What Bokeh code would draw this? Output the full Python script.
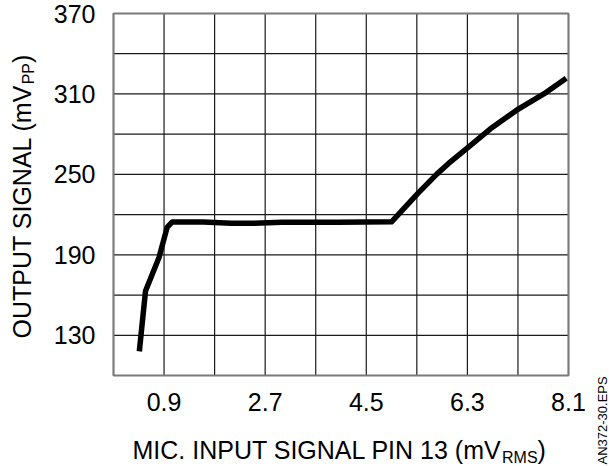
import math
from bokeh.plotting import figure
from bokeh.models import Label, Range1d
from bokeh.core.properties import value
from bokeh.embed import file_html
from bokeh.resources import INLINE

# ---- data ----
input_mv = [0.46, 0.57, 0.81, 0.955, 1.045, 1.6, 2.1, 2.5, 3.0, 4.0, 4.95,
            5.41, 5.76, 5.96, 6.28, 6.71, 7.17, 7.66, 8.06]
output_mv = [118, 163, 188, 210.5, 214.5, 214.5, 213.5, 213.5, 214.3, 214.3, 214.6,
             235.5, 250.4, 258, 269, 284, 297.7, 310, 321.7]
x_grid = [0.0, 0.9, 1.8, 2.7, 3.6, 4.5, 5.4, 6.3, 7.2, 8.1]
x_ticks = [0.9, 2.7, 4.5, 6.3, 8.1]
x_tick_labels = ["0.9", "2.7", "4.5", "6.3", "8.1"]
y_grid = [100, 130, 160, 190, 220, 250, 280, 310, 340, 370]
y_ticks = [130, 190, 250, 310, 370]
y_tick_labels = ["130", "190", "250", "310", "370"]
x_lim = (0.0, 8.1)
y_lim = (100, 370)
x_title = ["MIC. INPUT SIGNAL PIN 13 (mV", "RMS", ")"]
y_title = ["OUTPUT SIGNAL (mV", "PP", ")"]
fig_code = "AN372-30.EPS"

FONT = "Liberation Sans"

# ---- geometry (canvas px): plot box inside a 609x466 canvas ----
W, H = 609, 466
FL, FT, FR, FB = 113, 13, 568, 375
xs = (x_lim[1] - x_lim[0]) / (FR - FL)
ys = (y_lim[1] - y_lim[0]) / (FB - FT)
def dx(px):
    return x_lim[0] + (px - FL) * xs
def dy(py):
    return y_lim[1] - (py - FT) * ys

p = figure(frame_width=W, frame_height=H,
           x_range=Range1d(dx(0), dx(W)), y_range=Range1d(dy(H), dy(0)),
           output_backend="svg", toolbar_location=None,
           x_axis_location=None, y_axis_location=None,
           min_border_left=0, min_border_right=0, min_border_top=0, min_border_bottom=0)
p.grid.visible = False
p.outline_line_color = None
p.background_fill_color = "white"
p.border_fill_color = "white"

# grid
p.segment(x0=x_grid, y0=[y_lim[0]] * len(x_grid), x1=x_grid, y1=[y_lim[1]] * len(x_grid),
          line_color="#1a1a1a", line_width=1.2)
p.segment(x0=[x_lim[0]] * len(y_grid), y0=y_grid, x1=[x_lim[1]] * len(y_grid), y1=y_grid,
          line_color="#1a1a1a", line_width=1.2)
# plot box border
p.quad(left=[x_lim[0]], right=[x_lim[1]], bottom=[y_lim[0]], top=[y_lim[1]],
       fill_color=None, line_color="#7a7a7a", line_width=2)

# curve
p.line(input_mv, output_mv, line_color="black", line_width=5.5, line_join="round")

# tick labels
p.text(x=x_ticks, y=[y_lim[0]] * len(x_ticks), text=x_tick_labels,
       text_font=value(FONT), text_font_size="25px", text_color="black",
       text_align="center", text_baseline="top", y_offset=17)
p.text(x=[x_lim[0]] * len(y_ticks), y=y_ticks, text=y_tick_labels,
       text_font=value(FONT), text_font_size="25px", text_color="black",
       text_align="right", text_baseline="middle", x_offset=-18)

# ---- titles with subscripts ----
AW = {' ': 278, '(': 333, ')': 333, '.': 278, '-': 333, 'A': 667, 'C': 722, 'E': 667,
      'G': 778, 'I': 278, 'L': 556, 'M': 833, 'N': 722, 'O': 778, 'P': 667, 'R': 722,
      'S': 667, 'T': 611, 'U': 722, 'V': 667, 'm': 833}
for d in "0123456789":
    AW[d] = 556
def tw(s, size):
    return sum(AW.get(c, 556) for c in s) * size / 1000.0
MID = (0.905 - 0.212) / 2  # text-box middle above the baseline, in em

def lab(text, px, py, size, angle=0.0):
    # (px, py) is the start of the text on its baseline; anchor at the box middle
    off = MID * size
    ax = px - off * math.sin(angle)
    ay = py - off * math.cos(angle)
    p.add_layout(Label(x=dx(ax), y=dy(ay), text=text, text_font=FONT,
                       text_font_size=f"{size}px", text_color="black",
                       text_align="left", text_baseline="middle", angle=angle))

MAIN, SUB = 25, 16
x0, base = 132, 458
lab(x_title[0], x0, base, MAIN)
x1 = x0 + tw(x_title[0], MAIN)
lab(x_title[1], x1, base + 5, SUB)
x2 = x1 + tw(x_title[1], SUB)
lab(x_title[2], x2, base, MAIN)

y0, bx = 338, 30
lab(y_title[0], bx, y0, MAIN, math.pi / 2)
y1 = y0 - tw(y_title[0], MAIN)
lab(y_title[1], bx + 4, y1, SUB, math.pi / 2)
y2 = y1 - tw(y_title[1], SUB)
lab(y_title[2], bx, y2, MAIN, math.pi / 2)

lab(fig_code, 607, 464, 13, math.pi / 2)

open("out.html", "w").write(file_html(p, INLINE))
